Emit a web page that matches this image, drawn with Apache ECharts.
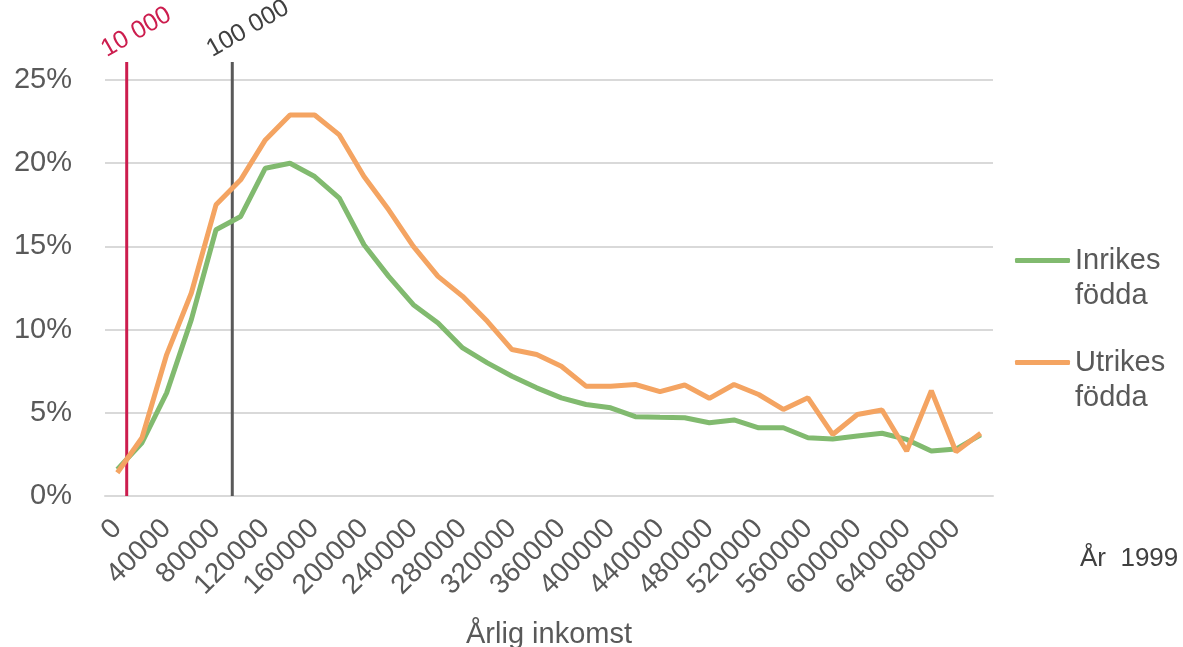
<!DOCTYPE html>
<html>
<head>
<meta charset="utf-8">
<script src="https://cdn.jsdelivr.net/npm/echarts@6/dist/echarts.min.js"></script>
<style>html,body{margin:0;padding:0;background:#fff}#c{width:1183px;height:647px}</style>
</head>
<body>
<div id="c"></div>
<script>
// Annual income categories (SEK), step 20000
var categories = [];
for (var k = 0; k <= 700000; k += 20000) categories.push(String(k));

// Share of people (%) per income bracket
var inrikes = [1.6, 3.2, 6.2, 10.6, 16.0, 16.8, 19.7, 20.0, 19.2, 17.9,
  15.1, 13.2, 11.5, 10.4, 8.9, 8.0, 7.2, 6.5, 5.9, 5.5,
  5.3, 4.77, 4.73, 4.7, 4.4, 4.57, 4.1, 4.1, 3.5, 3.43,
  3.6, 3.77, 3.4, 2.7, 2.82, 3.67];
var utrikes = [1.4, 3.5, 8.5, 12.2, 17.5, 19.0, 21.4, 22.9, 22.9, 21.7,
  19.2, 17.2, 15.0, 13.2, 12.0, 10.5, 8.8, 8.5, 7.8, 6.6,
  6.6, 6.7, 6.27, 6.67, 5.87, 6.7, 6.1, 5.2, 5.9, 3.7,
  4.9, 5.17, 2.7, 6.33, 2.66, 3.77];

var seriesNames = ['Inrikes födda', 'Utrikes födda'];
var legendLabels = {'Inrikes födda': 'Inrikes\nfödda', 'Utrikes födda': 'Utrikes\nfödda'};
var yTicks = [0, 5, 10, 15, 20, 25];

// Reference lines (position in category-index units, as drawn in the original)
var refLabels = ['10 000', '100 000'];
var refPositions = [0.38, 4.66];

var yearText = 'År  1999';
var xAxisTitle = 'Årlig inkomst';

var FONT = '"Liberation Sans", Arial, sans-serif';
var TXT = '#595959';
var refColors = ['#CC1D4E', '#595959'];
var refLabelColors = ['#CC1D4E', '#404040'];

function refLine(i) {
  return {
    type: 'line', xAxisIndex: 1, yAxisIndex: 1,
    symbol: 'none',
    lineStyle: {color: refColors[i], width: 3},
    silent: true, z: 1,
    data: [[refPositions[i], 0], [refPositions[i], 1]]
  };
}
function refText(i) {
  return {
    type: 'scatter', xAxisIndex: 1, yAxisIndex: 1, clip: false,
    symbolSize: 2, itemStyle: {color: 'rgba(0,0,0,0)', opacity: 1}, silent: true, z: 5,
    data: [[refPositions[i], 1]],
    label: {
      show: true, formatter: refLabels[i], rotate: 30,
      position: 'inside', align: 'left', verticalAlign: 'middle',
      offset: [-15, -21],
      color: refLabelColors[i], fontSize: 25, fontFamily: FONT, opacity: 1
    }
  };
}

var chart = echarts.init(document.getElementById('c'), null, {renderer: 'canvas'});
chart.setOption({
  animation: false,
  backgroundColor: '#fff',
  textStyle: {fontFamily: FONT},
  grid: [
    {left: 105, right: 190, top: 80, bottom: 151, outerBoundsMode: 'none', containLabel: false},
    {left: 105, right: 190, top: 62, bottom: 151, outerBoundsMode: 'none', containLabel: false}
  ],
  legend: {
    data: seriesNames,
    orient: 'vertical',
    left: 1015, top: 208, padding: 0,
    itemWidth: 55, itemHeight: 5, itemGap: -3,
    icon: 'roundRect',
    formatter: function (n) { return '\n' + legendLabels[n]; },
    textStyle: {color: TXT, fontSize: 29, fontFamily: FONT, lineHeight: 35},
    selectedMode: false
  },
  title: {
    text: yearText, left: 1075, top: 541,
    textStyle: {color: '#404040', fontSize: 26, fontWeight: 'normal', fontFamily: FONT}
  },
  xAxis: [
    {
      type: 'category', gridIndex: 0, data: categories, boundaryGap: true,
      axisLine: {lineStyle: {color: '#d9d9d9', width: 2}},
      axisTick: {show: false},
      axisLabel: {interval: 1, rotate: 45, color: TXT, fontSize: 28, fontFamily: FONT, margin: 28},
      name: xAxisTitle, nameLocation: 'middle', nameGap: 124,
      nameTextStyle: {color: TXT, fontSize: 29, fontFamily: FONT}
    },
    {type: 'value', gridIndex: 1, min: -0.5, max: 35.5, show: false}
  ],
  yAxis: [
    {
      type: 'value', gridIndex: 0, min: yTicks[0], max: yTicks[yTicks.length - 1], interval: 5,
      axisLine: {show: false}, axisTick: {show: false},
      splitLine: {lineStyle: {color: '#d9d9d9', width: 2}},
      axisLabel: {formatter: '{value}%', color: TXT, fontSize: 29, fontFamily: FONT, margin: 33}
    },
    {type: 'value', gridIndex: 1, min: 0, max: 1, show: false}
  ],
  series: [
    refLine(0), refLine(1), refText(0), refText(1),
    {
      name: seriesNames[0], type: 'line', data: inrikes, showSymbol: false, symbol: 'none',
      lineStyle: {color: '#81BA6F', width: 5}, itemStyle: {color: '#81BA6F'}, z: 3
    },
    {
      name: seriesNames[1], type: 'line', data: utrikes, showSymbol: false, symbol: 'none',
      lineStyle: {color: '#F4A462', width: 5}, itemStyle: {color: '#F4A462'}, z: 4
    }
  ]
});
</script>
</body>
</html>
